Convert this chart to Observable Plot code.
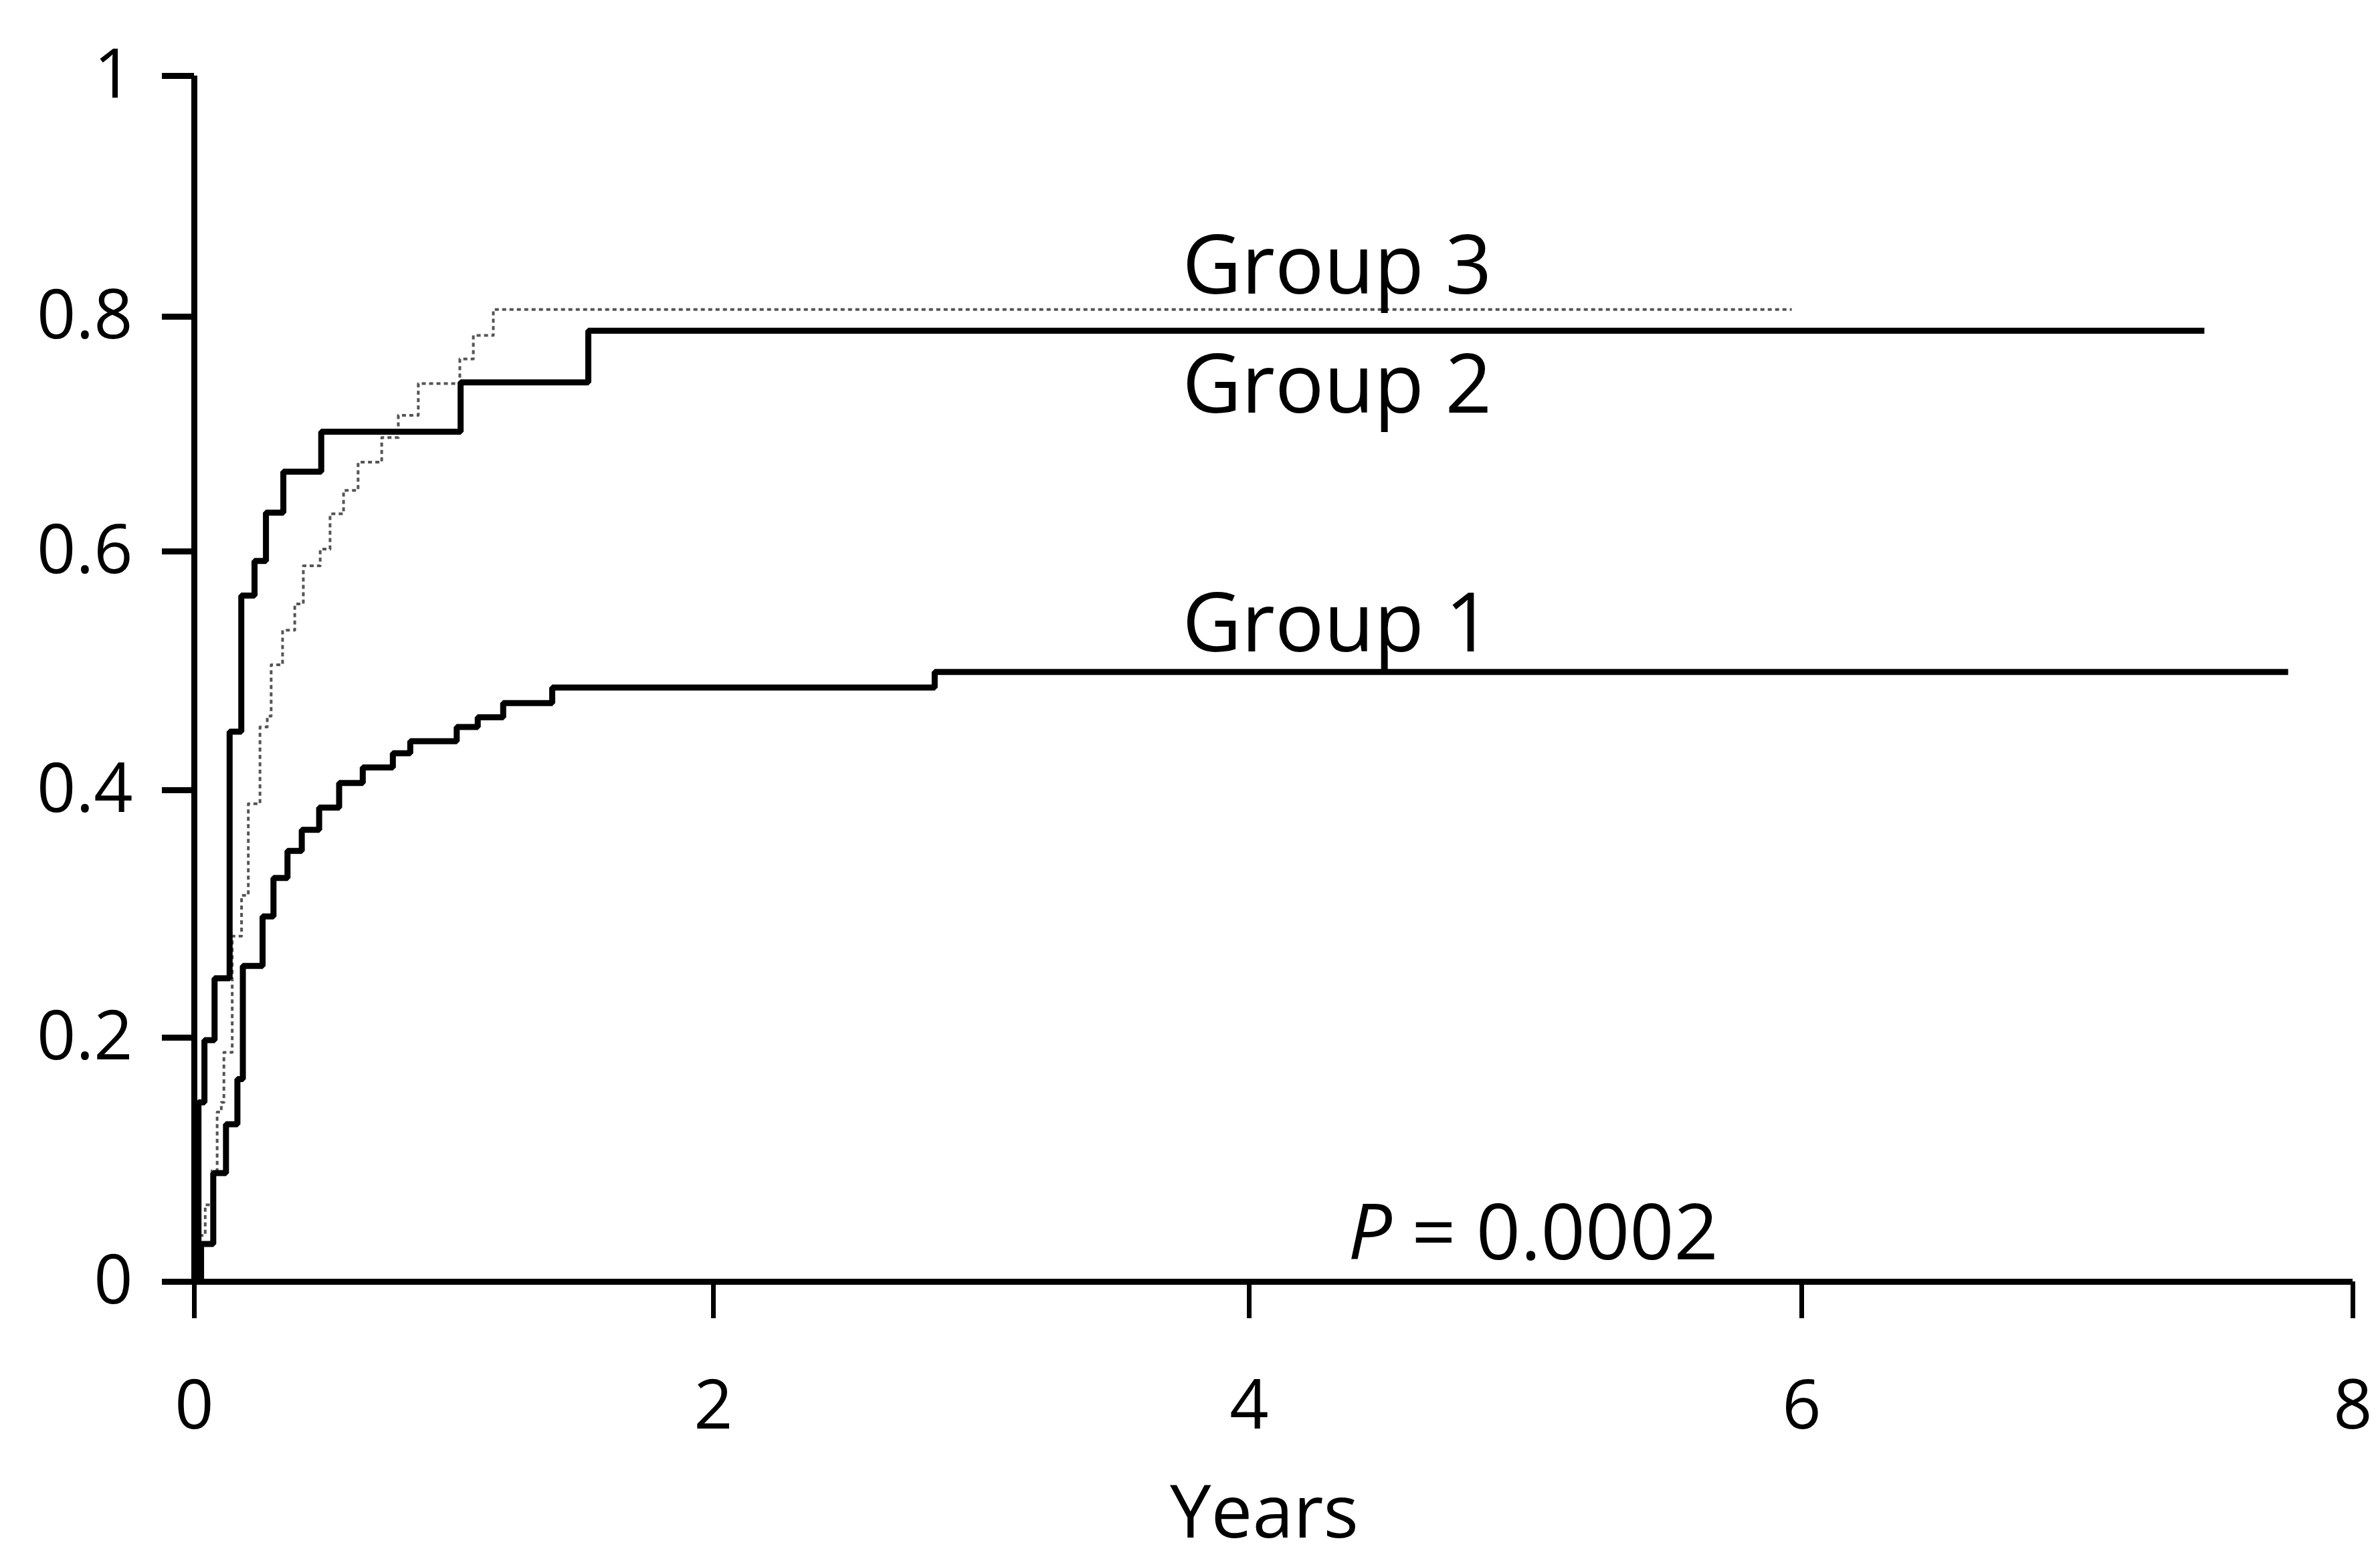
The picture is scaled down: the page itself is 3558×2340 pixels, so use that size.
<!DOCTYPE html>
<html>
<head>
<meta charset="utf-8">
<script src="https://cdn.jsdelivr.net/npm/d3@7"></script>
<script src="https://cdn.jsdelivr.net/npm/@observablehq/plot@0.6"></script>
<style>
  html, body { margin: 0; padding: 0; background: #fff; }
  #chart svg { display: block; }
</style>
</head>
<body>
<div id="chart"></div>
<script>
// ---- data ----
const group1Years = [0, 0.026, 0.073, 0.122, 0.166, 0.187, 0.263, 0.305, 0.359, 0.414, 0.481, 0.558, 0.649, 0.765, 0.832, 1.011, 1.092, 1.19, 1.379, 2.826, 7.765];
const group1Rates = [0, 0.031, 0.089, 0.129, 0.166, 0.258, 0.298, 0.329, 0.351, 0.368, 0.386, 0.406, 0.419, 0.431, 0.441, 0.453, 0.461, 0.473, 0.486, 0.499, 0.499];

const group2Years = [0, 0.016, 0.039, 0.078, 0.136, 0.181, 0.232, 0.276, 0.343, 0.489, 1.026, 1.518, 7.461];
const group2Rates = [0, 0.147, 0.198, 0.248, 0.449, 0.563, 0.592, 0.633, 0.668, 0.702, 0.744, 0.788, 0.788];

const group3Years = [0, 0.021, 0.042, 0.068, 0.088, 0.104, 0.114, 0.146, 0.182, 0.208, 0.253, 0.281, 0.296, 0.34, 0.387, 0.42, 0.485, 0.523, 0.575, 0.631, 0.722, 0.786, 0.863, 1.023, 1.075, 1.152, 5.964];
const group3Rates = [0, 0.038, 0.063, 0.091, 0.139, 0.147, 0.188, 0.282, 0.315, 0.389, 0.453, 0.462, 0.505, 0.534, 0.556, 0.588, 0.602, 0.632, 0.652, 0.676, 0.697, 0.716, 0.743, 0.764, 0.784, 0.806, 0.806];

const groupNames = ["Group 1", "Group 2", "Group 3"];
const labelYears = [3.75, 3.75, 3.75];
const labelRates = [0.5165, 0.718, 0.8194];

const xTicks = [0, 2, 4, 6, 8];
const yTicks = [0, 0.2, 0.4, 0.6, 0.8, 1];
const xLabel = "Years";
const pSymbol = "P";
const pValueText = "= 0.0002";
const pSymbolPos = [4.358, 0.0181];
const pValuePos = [4.588, 0.0181];

// scale calibration (pixel position of each tick in the reference scan)
const xRange = [290, 1066, 1867, 2693, 3517];
const yRange = [1916, 1551, 1181, 824, 473, 113];

// ---- tables built from the arrays ----
const toRows = (name, xs, ys) => xs.map((x, i) => ({group: name, year: x, rate: ys[i]}));
const solidRows = [
  ...toRows("Group 1", group1Years, group1Rates),
  ...toRows("Group 2", group2Years, group2Rates)
];
const dottedRows = toRows("Group 3", group3Years, group3Rates);
const labels = groupNames.map((g, i) => ({label: g, year: labelYears[i], rate: labelRates[i]}));

const FONT = "'Open Sans', 'Noto Sans', sans-serif";

const chart = Plot.plot({
  width: 3558,
  height: 2340,
  marginLeft: 290,
  marginRight: 41,
  marginTop: 113,
  marginBottom: 424,
  style: {fontFamily: FONT, background: "#fff", color: "#000"},
  x: {type: "linear", domain: xTicks, range: xRange},
  y: {type: "linear", domain: yTicks, range: yRange},
  marks: [
    Plot.ruleY([0], {x1: 0, x2: 8, stroke: "#000", strokeWidth: 9}),
    Plot.ruleX([0], {y1: 0, y2: 1, stroke: "#000", strokeWidth: 9}),
    Plot.axisX({ticks: xTicks, tickSize: 55, tickPadding: 92, strokeWidth: 7, fontSize: 102, tickFormat: d => String(d), label: null}),
    Plot.axisY({ticks: yTicks, tickSize: 48, tickPadding: 44, strokeWidth: 9, fontSize: 102, tickFormat: d => String(d), label: null}),
    Plot.line(dottedRows, {x: "year", y: "rate", curve: "step-after", stroke: "#555", strokeWidth: 4, strokeDasharray: "6 5", strokeLinecap: "butt"}),
    Plot.line(solidRows, {x: "year", y: "rate", z: "group", curve: "step-after", stroke: "#000", strokeWidth: 9, strokeLinejoin: "miter", strokeLinecap: "butt"}),
    Plot.text(labels, {x: "year", y: "rate", text: "label", textAnchor: "start", lineAnchor: "bottom", fontSize: 122, fill: "#000"}),
    Plot.text([pSymbol], {x: pSymbolPos[0], y: pSymbolPos[1], text: d => d, textAnchor: "start", lineAnchor: "bottom", fontSize: 116, fontStyle: "italic", fill: "#000"}),
    Plot.text([pValueText], {x: pValuePos[0], y: pValuePos[1], text: d => d, textAnchor: "start", lineAnchor: "bottom", fontSize: 116, fill: "#000"}),
    Plot.text([xLabel], {frameAnchor: "bottom", text: d => d, dx: -14, dy: 382, lineAnchor: "bottom", fontSize: 110, fill: "#000"})
  ]
});
document.getElementById("chart").appendChild(chart);
</script>
</body>
</html>
